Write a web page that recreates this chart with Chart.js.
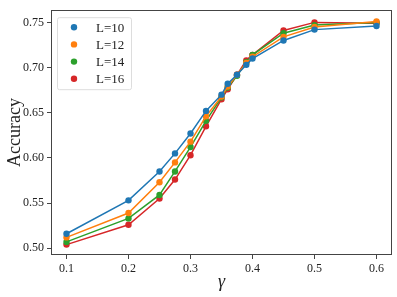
<!DOCTYPE html>
<html>
<head>
<meta charset="utf-8">
<script src="https://cdn.jsdelivr.net/npm/chart.js@4/dist/chart.umd.min.js"></script>
<style>
  html, body { margin: 0; padding: 0; background: #fff; }
  #wrap { width: 397px; height: 297px; }
</style>
</head>
<body>
<div id="wrap"><canvas id="acc-chart" width="397" height="297"></canvas></div>
<script>
// gamma values
var gammas = [0.1, 0.2, 0.25, 0.275, 0.3, 0.325, 0.35, 0.36, 0.375, 0.39, 0.4, 0.45, 0.5, 0.6];

// accuracy per system size
var accL10 = [0.516, 0.553, 0.585, 0.605, 0.627, 0.652, 0.670, 0.682, 0.692, 0.703, 0.710, 0.730, 0.742, 0.746];
var accL12 = [0.512, 0.539, 0.573, 0.595, 0.618, 0.646, 0.668, 0.679, 0.692, 0.705, 0.712, 0.734, 0.745, 0.751];
var accL14 = [0.507, 0.533, 0.559, 0.585, 0.612, 0.641, 0.667, 0.678, 0.691, 0.706, 0.714, 0.738, 0.747, 0.750];
var accL16 = [0.504, 0.526, 0.555, 0.576, 0.603, 0.635, 0.665, 0.676, 0.692, 0.708, 0.714, 0.741, 0.750, 0.749];

var seriesLabels = ['L=10', 'L=12', 'L=14', 'L=16'];
var seriesColors = ['#1f77b4', '#ff7f0e', '#2ca02c', '#d62728'];

var xTicks = [0.1, 0.2, 0.3, 0.4, 0.5, 0.6];
var yTicks = [0.50, 0.55, 0.60, 0.65, 0.70, 0.75];

var serif = "'Liberation Serif', 'DejaVu Serif', serif";

function toPoints(ys) {
  return gammas.map(function(g, i) { return { x: g, y: ys[i] }; });
}

var allSeries = [accL10, accL12, accL14, accL16];
var datasets = allSeries.map(function(ys, i) {
  return {
    label: seriesLabels[i],
    data: toPoints(ys),
    borderColor: seriesColors[i],
    backgroundColor: seriesColors[i],
    borderWidth: 1.5,
    pointRadius: 3.2,
    pointHoverRadius: 3.2,
    pointBorderWidth: 0,
    tension: 0
  };
});

// frame around the plot + legend inside upper left
var framePlugin = {
  id: 'frame',
  afterDraw: function(chart) {
    var ctx = chart.ctx, a = chart.chartArea;
    ctx.save();
    ctx.strokeStyle = '#444';
    ctx.lineWidth = 1;
    ctx.strokeRect(Math.round(a.left) + 0.5, Math.round(a.top) + 0.5,
                   Math.round(a.right - a.left) - 1, Math.round(a.bottom - a.top) - 1);

    // legend box
    var bx = a.left + 6, by = a.top + 7, bw = 74, bh = 72;
    ctx.fillStyle = 'rgba(255,255,255,0.8)';
    ctx.strokeStyle = '#ddd';
    ctx.beginPath();
    ctx.roundRect(bx + 0.5, by + 0.5, bw, bh, 2);
    ctx.fill();
    ctx.stroke();
    ctx.font = '13px ' + serif;
    ctx.textBaseline = 'middle';
    chart.data.datasets.forEach(function(ds, i) {
      var yy = by + 10 + i * 17.2;
      ctx.fillStyle = ds.borderColor;
      ctx.beginPath();
      ctx.arc(bx + 17, yy, 3.2, 0, Math.PI * 2);
      ctx.fill();
      ctx.fillStyle = '#222';
      ctx.fillText(ds.label, bx + 39, yy + 1);
    });
    ctx.restore();
  }
};

new Chart(document.getElementById('acc-chart'), {
  type: 'line',
  data: { datasets: datasets },
  options: {
    responsive: false,
    animation: false,
    layout: { padding: { top: 5, right: 5, left: 0, bottom: 0 } },
    plugins: { legend: { display: false }, tooltip: { enabled: false } },
    scales: {
      x: {
        type: 'linear',
        min: 0.075,
        max: 0.625,
        afterBuildTicks: function(scale) {
          scale.ticks = xTicks.map(function(v) { return { value: v }; });
        },
        afterFit: function(scale) { scale.height = 42; },
        grid: { drawOnChartArea: false, drawTicks: true, tickLength: 4, color: '#444' },
        border: { display: false },
        ticks: {
          color: '#222',
          padding: 3,
          font: { family: serif, size: 12 },
          callback: function(v) { return v.toFixed(1); }
        },
        title: {
          display: true,
          text: 'γ',
          color: '#222',
          padding: { top: 5 },
          font: { family: serif, size: 18, style: 'italic' }
        }
      },
      y: {
        min: 0.4925,
        max: 0.7635,
        afterBuildTicks: function(scale) {
          scale.ticks = yTicks.map(function(v) { return { value: v }; });
        },
        afterFit: function(scale) { scale.width = 51; },
        grid: { drawOnChartArea: false, drawTicks: true, tickLength: 4, color: '#444' },
        border: { display: false },
        ticks: {
          color: '#222',
          padding: 3,
          font: { family: serif, size: 12 },
          callback: function(v) { return v.toFixed(2); }
        },
        title: {
          display: true,
          text: 'Accuracy',
          color: '#222',
          padding: { bottom: 0 },
          font: { family: serif, size: 18 }
        }
      }
    }
  },
  plugins: [framePlugin]
});
</script>
</body>
</html>
